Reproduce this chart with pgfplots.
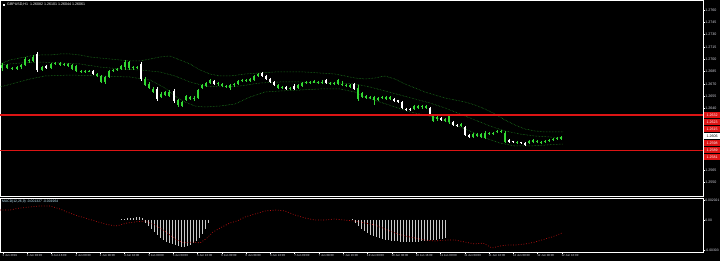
\documentclass[border=0pt]{standalone}
\usepackage{fontspec}
\setmainfont{Liberation Sans}
\usepackage{pgfplots}
\usepackage{pgfplotstable}
\pgfplotsset{compat=1.18}
\definecolor{cgreen}{RGB}{50,215,50}
\definecolor{bandgreen}{RGB}{35,150,35}
\definecolor{lred}{RGB}{220,20,20}
\definecolor{histgray}{RGB}{200,200,200}
\definecolor{txt}{RGB}{215,215,225}

\pgfplotstableread{
x hi lo bt bb
2 63 71 65 68
7 64 69 65 68
12 67 70 68 69
17 66 70 67 69
21 64 69 65 67
25 57 66 59 65
29 59 63 60 61
33 55 62 57 61
42 66 71 67 70
51 63 69 64 68
55 62 65 63 64
60 62 66 63 65
64 63 66 64 65
68 63 67 64 66
72 64 70 65 69
76 65 72 66 71
81 70 73 71 72
85 70 73 71 72
89 70 72 71 72
97 73 77 74 76
101 75 83 76 82
105 76 84 77 82
109 70 78 71 77
113 69 72 70 71
117 68 71 69 70
121 65 70 66 69
125 60 70 62 67
129 61 70 62 68
133 66 70 67 68
137 66 69 67 68
145 77 86 79 85
149 82 89 84 88
153 87 93 89 92
161 92 98 94 97
165 91 96 92 95
169 90 97 92 96
178 99 107 100 105
182 101 107 102 106
186 95 101 96 100
190 96 100 97 99
194 96 101 98 99
198 89 99 90 98
202 84 89 85 88
206 82 87 83 86
210 79 84 80 83
218 82 86 83 84
222 83 87 84 86
226 85 88 86 87
230 84 90 85 88
234 83 87 84 85
238 80 85 81 84
242 79 82 80 81
246 79 82 80 81
250 78 82 79 81
254 75 81 76 80
258 73 77 74 76
278 84 89 85 88
282 86 89 87 88
290 87 90 88 89
298 84 89 85 88
302 82 87 83 86
306 81 84 82 83
310 81 84 82 83
314 80 83 81 83
318 81 84 82 83
322 80 84 82 83
330 82 85 83 84
334 82 85 83 84
338 79 85 80 84
342 81 86 84 85
346 84 87 85 86
350 84 88 85 87
358 85 101 88 99
362 92 98 93 97
366 95 99 96 98
370 96 99 97 98
374 96 105 97 100
378 97 101 98 100
382 96 99 97 98
386 96 100 97 99
390 96 100 97 99
414 105 110 106 109
418 105 109 106 108
422 105 109 106 107
426 105 109 106 108
433 115 122 116 121
437 116 121 117 119
445 118 122 119 121
449 115 124 116 122
461 123 127 124 126
473 133 138 134 137
477 133 137 134 136
481 133 138 134 137
485 131 139 133 138
489 132 135 133 134
493 132 135 133 134
497 130 133 131 132
501 130 133 131 132
505 131 143 133 142
517 141 144 142 143
529 140 144 141 143
533 139 143 140 142
537 140 143 141 142
541 141 144 142 143
545 140 143 141 142
549 139 142 140 141
553 138 141 139 140
557 137 140 138 139
561 136 140 137 139
}\greencandles

\pgfplotstableread{
x hi lo bt bb
37 52 72 54 70
46 65 69 66 68
93 70 75 71 74
141 62 81 64 79
157 87 101 89 99
174 89 103 91 101
214 80 85 81 84
262 72 77 73 76
266 75 80 76 79
270 78 83 79 82
274 81 86 82 85
286 86 90 87 89
294 84 90 86 89
326 79 84 80 83
354 83 90 84 89
394 98 102 99 101
398 100 103 100 102
402 101 109 102 108
406 108 111 109 110
410 108 111 109 110
430 107 115 108 114
441 117 121 118 120
453 121 126 122 125
457 124 127 125 126
465 126 136 127 135
469 134 138 135 137
509 139 143 140 142
513 141 143 141 142
521 142 144 142 143
525 142 146 143 145
}\whitecandles

\begin{document}
\begin{tikzpicture}
\path[use as bounding box, fill=black] (0,0) rectangle (720pt,-261pt);

% ---------------- main price panel ----------------
\begin{axis}[
  at={(0pt,0pt)}, anchor=north west,
  scale only axis, width=703pt, height=196pt,
  xmin=0, xmax=703, ymin=0, ymax=196, y dir=reverse,
  axis line style={white, line width=0.6pt},
  xtick=\empty,
  ytick={10,22.3,34.6,46.9,59.2,71.5,83.8,96.1,108.4,169.9,182.2},
  yticklabels={1.2760,1.2745,1.2730,1.2715,1.2700,1.2685,1.2670,1.2655,1.2640,1.2565,1.2550},
  ytick pos=right, yticklabel pos=right, tick align=outside,
  major tick length=1.5pt,
  tick style={white, line width=0.4pt},
  yticklabel style={font=\fontsize{3.6}{4}\selectfont, text=txt, inner sep=0.6pt},
  clip=false,
]
% Bollinger bands
\addplot[bandgreen, line width=0.5pt, densely dotted] coordinates {
(0,64) (10,60) (20,58) (30,56) (40,55) (50,55) (60,54) (70,54) (80,55) (90,57) (100,58) (110,59) (120,60) (130,61) (140,61) (150,59) (160,57) (170,56) (180,60) (190,64) (200,70) (210,74) (220,76) (230,76) (245,74) (260,73) (275,72) (290,72) (305,72) (320,73) (335,74) (345,76) (355,78) (365,79) (375,78) (385,76) (395,79) (405,84) (415,88) (425,92) (435,95) (445,98) (455,100) (465,102) (475,105) (485,109) (495,114) (505,120) (515,125) (525,129) (535,131) (545,132) (555,132) (563,132)};
\addplot[bandgreen, line width=0.5pt, densely dotted] coordinates {
(0,65) (20,63) (40,62) (60,63) (80,64) (100,67) (120,69) (140,70) (160,72) (175,76) (190,82) (205,86) (220,87) (240,86) (260,83) (280,82) (300,82) (320,83) (340,83) (355,84) (370,87) (385,91) (400,95) (415,99) (430,103) (445,108) (460,114) (475,120) (490,126) (505,131) (520,134) (535,136) (550,137) (563,138)};
\addplot[bandgreen, line width=0.5pt, densely dotted] coordinates {
(0,87) (15,83) (30,79) (45,76) (70,75) (100,76) (130,77) (150,80) (165,88) (175,96) (185,102) (195,106) (205,107) (220,106) (235,104) (250,97) (265,92) (280,91) (300,90) (320,89) (340,89) (355,92) (365,97) (380,102) (395,107) (410,112) (425,115) (440,119) (455,125) (470,131) (485,138) (500,143) (515,146) (530,146) (545,145) (563,144)};

% candles: wicks and bodies
\addplot[draw=none, mark=none, error bars/.cd, y dir=plus, y explicit, error mark=none,
  error bar style={draw=cgreen, line width=0.6pt}]
  table[x=x, y=hi, y error expr=\thisrow{lo}-\thisrow{hi}] {\greencandles};
\addplot[draw=none, mark=none, error bars/.cd, y dir=plus, y explicit, error mark=none,
  error bar style={draw=cgreen, line width=2pt}]
  table[x=x, y=bt, y error expr=\thisrow{bb}-\thisrow{bt}] {\greencandles};
\addplot[draw=none, mark=none, error bars/.cd, y dir=plus, y explicit, error mark=none,
  error bar style={draw=white, line width=0.6pt}]
  table[x=x, y=hi, y error expr=\thisrow{lo}-\thisrow{hi}] {\whitecandles};
\addplot[draw=none, mark=none, error bars/.cd, y dir=plus, y explicit, error mark=none,
  error bar style={draw=white, line width=2pt}]
  table[x=x, y=bt, y error expr=\thisrow{bb}-\thisrow{bt}] {\whitecandles};

% horizontal levels
\addplot[draw=lred, line width=1.6pt, mark=none] coordinates {(0,115) (703,115)};
\addplot[draw=lred, line width=1.6pt, mark=none] coordinates {(0,150.5) (703,150.5)};

% title
\node[anchor=west, text=white, font=\fontsize{3.6}{4}\selectfont, inner sep=0pt] at (axis cs:3,4.5)
  {\rule{2pt}{2pt}\ \ GBPUSD,H1\ \ 1.26082 1.26101 1.26044 1.26061};

% price labels on the right
\begin{scope}[every node/.style={anchor=west, inner sep=0pt, minimum width=16pt, minimum height=5.6pt,
  font=\fontsize{3.6}{4}\selectfont}]
\node[fill=lred, text=white] at (axis cs:704,115) {1.2632};
\node[fill=lred, text=white] at (axis cs:704,122) {1.2623};
\node[fill=lred, text=white] at (axis cs:704,129) {1.2615};
\node[fill=white, text=black] at (axis cs:704,136) {1.2606};
\node[fill=lred, text=white] at (axis cs:704,143) {1.2598};
\node[fill=lred, text=white] at (axis cs:704,150) {1.2589};
\node[fill=lred, text=white] at (axis cs:704,157) {1.2581};
\end{scope}
\end{axis}

% ---------------- MACD panel ----------------
\begin{axis}[
  at={(0pt,-198pt)}, anchor=north west,
  scale only axis, width=703pt, height=54pt,
  xmin=0, xmax=703, ymin=-32, ymax=22,
  axis line style={white, line width=0.6pt},
  xtick={3,27.3,51.6,75.9,100.2,124.5,148.8,173.1,197.4,221.7,246,270.3,294.6,318.9,343.2,367.5,391.8,416.1,440.4,464.7,489,513.3,537.6,561.9},
  xticklabels={3 Jun 2019,3 Jun 08:00,3 Jun 16:00,4 Jun 00:00,4 Jun 08:00,4 Jun 16:00,5 Jun 00:00,5 Jun 08:00,5 Jun 16:00,6 Jun 00:00,6 Jun 08:00,6 Jun 16:00,7 Jun 00:00,7 Jun 08:00,7 Jun 16:00,10 Jun 00:00,10 Jun 08:00,10 Jun 16:00,11 Jun 00:00,11 Jun 08:00,11 Jun 16:00,12 Jun 00:00,12 Jun 08:00,12 Jun 16:00},
  xtick pos=bottom, xticklabel style={anchor=north west, font=\fontsize{2.9}{3.2}\selectfont, text=txt, inner sep=0.5pt, xshift=-1pt},
  ytick={20,0,-30}, yticklabels={0.002021,0.00,-0.00303},
  ytick pos=right, yticklabel pos=right, tick align=outside,
  major tick length=1.5pt,
  tick style={white, line width=0.4pt},
  yticklabel style={font=\fontsize{3.4}{4}\selectfont, text=txt, inner sep=0.6pt},
  clip=false,
]
\addplot[ycomb, histgray, line width=0.55pt, mark=none] coordinates {
(121,1) (124,1) (127,2) (130,2) (133,2) (136,3) (139,3) (142,2)
(145,-3) (148,-6) (151,-9) (154,-12) (157,-15) (160,-18) (163,-20) (166,-22) (169,-23) (172,-24) (175,-25) (178,-26) (181,-27) (184,-27) (187,-26) (190,-25) (193,-23) (196,-21) (199,-18) (202,-14) (205,-9) (208,-3)};
\addplot[ycomb, histgray, line width=0.55pt, mark=none] coordinates {
(352,1) (355,-3) (358,-6) (361,-9) (364,-11) (367,-13) (370,-15) (373,-16) (376,-17) (379,-18) (382,-19) (385,-20) (388,-20) (391,-21) (394,-21) (397,-21) (400,-22) (403,-22) (406,-22) (409,-22) (412,-22) (415,-22) (418,-22) (421,-21) (424,-21) (427,-21) (430,-20) (433,-20) (436,-20) (439,-19) (442,-19) (445,-18)};
\addplot[lred!85!black, line width=0.7pt, dash pattern=on 0.8pt off 1.8pt] coordinates {
(0,10) (10,10) (20,12) (30,13) (40,14) (50,14) (60,11) (67,8) (75,5) (85,2) (95,-1) (105,-4) (115,-6) (120,-5) (127,-3) (135,-2) (145,-1) (155,-5) (163,-10) (170,-15) (177,-20) (184,-23) (192,-22) (200,-23) (207,-18) (213,-12) (222,-7) (230,-3) (237,-1) (245,3) (255,6) (265,9) (275,10) (285,9) (295,5) (305,2) (315,0) (325,0) (335,1) (345,0) (355,-1) (365,-3) (375,-5) (385,-9) (395,-13) (405,-16) (415,-18) (425,-20) (435,-21) (447,-20) (455,-20) (465,-22) (475,-24) (483,-23) (492,-28) (500,-26) (507,-25) (515,-25) (525,-24) (535,-22) (545,-19) (552,-17) (562,-13)};
\node[anchor=north west, text=cyan!25!white, font=\fontsize{3.4}{4}\selectfont, inner sep=0pt] at (axis cs:2,20.5)
  {MACD(12,26,9) -0.001327 -0.001964};
\end{axis}
\end{tikzpicture}
\end{document}
